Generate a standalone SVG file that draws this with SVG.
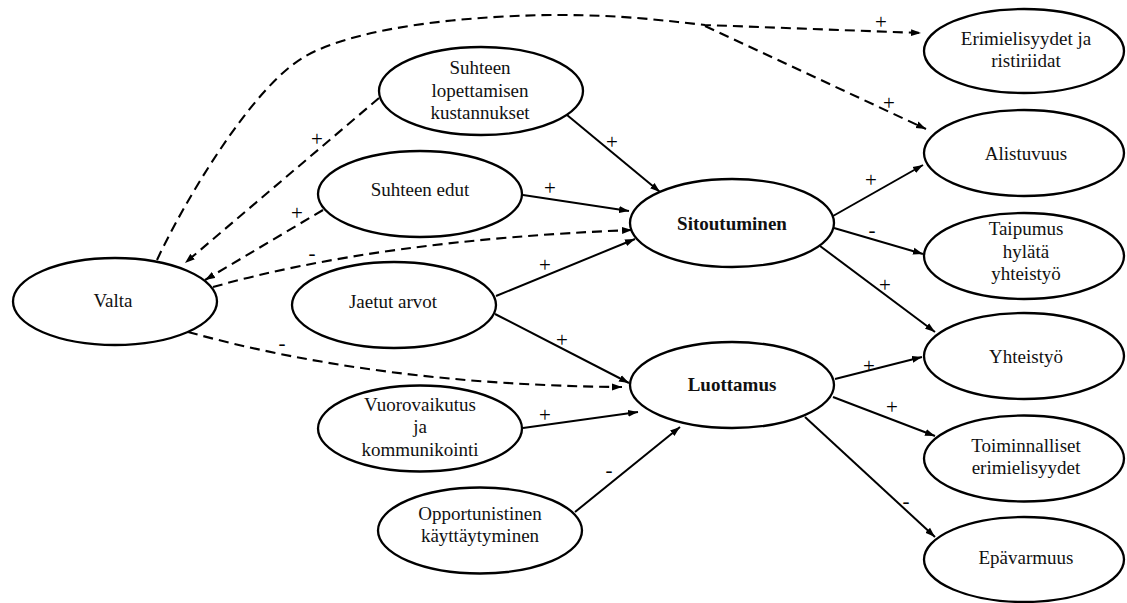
<svg xmlns="http://www.w3.org/2000/svg" width="1127" height="603" viewBox="0 0 1127 603">
  <style>
    .node ellipse { fill: #ffffff; stroke: #000000; stroke-width: 2.3; }
    .node text { font-family: "Liberation Serif", "Times New Roman", serif; font-size: 19px; fill: #111111; text-anchor: middle; }
    .node text.b { font-weight: bold; }
    .edge { fill: none; stroke: #000000; stroke-width: 2; marker-end: url(#arrow); }
    .dash { stroke-dasharray: 10 6; stroke-width: 2.1; }
    .sign { font-family: "Liberation Serif", "Times New Roman", serif; font-size: 21px; fill: #000000; text-anchor: middle; }
  </style>
  <defs>
    <marker id="arrow" markerUnits="userSpaceOnUse" markerWidth="11" markerHeight="8" refX="10" refY="4" orient="auto">
      <path d="M0,0.5 L10,4 L0,7.5 z" fill="#000000"/>
    </marker>
  </defs>
  <rect width="1127" height="603" fill="#ffffff"/>

  <!-- connectors -->
  <g id="connectors">
    <!-- solid influences -->
    <path class="edge" d="M567,115 L660,192"/>
    <path class="edge" d="M523,195 L629,211"/>
    <path class="edge" d="M496,296 L635,239"/>
    <path class="edge" d="M495,314 L629,383"/>
    <path class="edge" d="M523,428 L638,412"/>
    <path class="edge" d="M575,512 L680,427"/>
    <path class="edge" d="M833,216 L923,165"/>
    <path class="edge" d="M834,228 L923,254"/>
    <path class="edge" d="M820,246 L935,332"/>
    <path class="edge" d="M835,379 L922,357"/>
    <path class="edge" d="M833,397 L935,436"/>
    <path class="edge" d="M805,417 L935,537"/>
    <!-- dashed influences -->
    <path class="edge dash" d="M379,98 L185,263"/>
    <path class="edge dash" d="M323,210 L205,280"/>
    <path class="edge dash" d="M213,287 Q380,240 632,230"/>
    <path class="edge dash" d="M188,332 Q380,385 622,387"/>
    <path class="edge dash" d="M157,260 C183,204 251,88 304,57 C359,25 480,15 560,15 C620,15 660,20 705,25 L921,33"/>
    <path class="edge dash" d="M705,26 L926,129"/>
    <!-- signs -->
    <text class="sign" x="612" y="149">+</text>
    <text class="sign" x="550" y="195">+</text>
    <text class="sign" x="545" y="272">+</text>
    <text class="sign" x="562" y="347">+</text>
    <text class="sign" x="545" y="422">+</text>
    <text class="sign" x="609" y="477">-</text>
    <text class="sign" x="871" y="187">+</text>
    <text class="sign" x="872" y="237">-</text>
    <text class="sign" x="885" y="292">+</text>
    <text class="sign" x="869" y="373">+</text>
    <text class="sign" x="892" y="414">+</text>
    <text class="sign" x="906" y="508">-</text>
    <text class="sign" x="317" y="146">+</text>
    <text class="sign" x="297" y="220">+</text>
    <text class="sign" x="312" y="260">-</text>
    <text class="sign" x="282" y="350">-</text>
    <text class="sign" x="881" y="29">+</text>
    <text class="sign" x="889" y="110">+</text>
  </g>

  <!-- nodes -->
  <g id="valta" class="node">
    <ellipse cx="115" cy="301.5" rx="102" ry="43.5"/>
    <text x="113" y="307">Valta</text>
  </g>
  <g id="lopettamisen-kustannukset" class="node">
    <ellipse cx="481" cy="91" rx="102" ry="44"/>
    <text x="480" y="74">Suhteen</text>
    <text x="480" y="97">lopettamisen</text>
    <text x="480" y="119">kustannukset</text>
  </g>
  <g id="suhteen-edut" class="node">
    <ellipse cx="420" cy="194" rx="102" ry="43"/>
    <text x="420" y="196">Suhteen edut</text>
  </g>
  <g id="jaetut-arvot" class="node">
    <ellipse cx="394" cy="305" rx="102" ry="43"/>
    <text x="393" y="308">Jaetut arvot</text>
  </g>
  <g id="vuorovaikutus" class="node">
    <ellipse cx="420" cy="428.5" rx="102" ry="43"/>
    <text x="420" y="411">Vuorovaikutus</text>
    <text x="420" y="433">ja</text>
    <text x="420" y="456">kommunikointi</text>
  </g>
  <g id="opportunistinen" class="node">
    <ellipse cx="480" cy="530.5" rx="102" ry="43"/>
    <text x="480" y="520">Opportunistinen</text>
    <text x="480" y="542">käyttäytyminen</text>
  </g>
  <g id="sitoutuminen" class="node">
    <ellipse cx="732" cy="223" rx="102" ry="44"/>
    <text class="b" x="732" y="230">Sitoutuminen</text>
  </g>
  <g id="luottamus" class="node">
    <ellipse cx="732" cy="385" rx="102" ry="43"/>
    <text class="b" x="732" y="391">Luottamus</text>
  </g>
  <g id="erimielisyydet" class="node">
    <ellipse cx="1024" cy="51" rx="100" ry="42"/>
    <text x="1026" y="45">Erimielisyydet ja</text>
    <text x="1026" y="67">ristiriidat</text>
  </g>
  <g id="alistuvuus" class="node">
    <ellipse cx="1024" cy="153" rx="100" ry="43"/>
    <text x="1026" y="160">Alistuvuus</text>
  </g>
  <g id="taipumus" class="node">
    <ellipse cx="1024" cy="256" rx="100" ry="43"/>
    <text x="1026" y="235">Taipumus</text>
    <text x="1026" y="258">hylätä</text>
    <text x="1026" y="280">yhteistyö</text>
  </g>
  <g id="yhteistyo" class="node">
    <ellipse cx="1024" cy="356" rx="100" ry="43"/>
    <text x="1026" y="363">Yhteistyö</text>
  </g>
  <g id="toiminnalliset" class="node">
    <ellipse cx="1024" cy="458.5" rx="100" ry="43"/>
    <text x="1026" y="452">Toiminnalliset</text>
    <text x="1026" y="474">erimielisyydet</text>
  </g>
  <g id="epavarmuus" class="node">
    <ellipse cx="1024" cy="559.5" rx="100" ry="42.5"/>
    <text x="1026" y="564">Epävarmuus</text>
  </g>
</svg>
